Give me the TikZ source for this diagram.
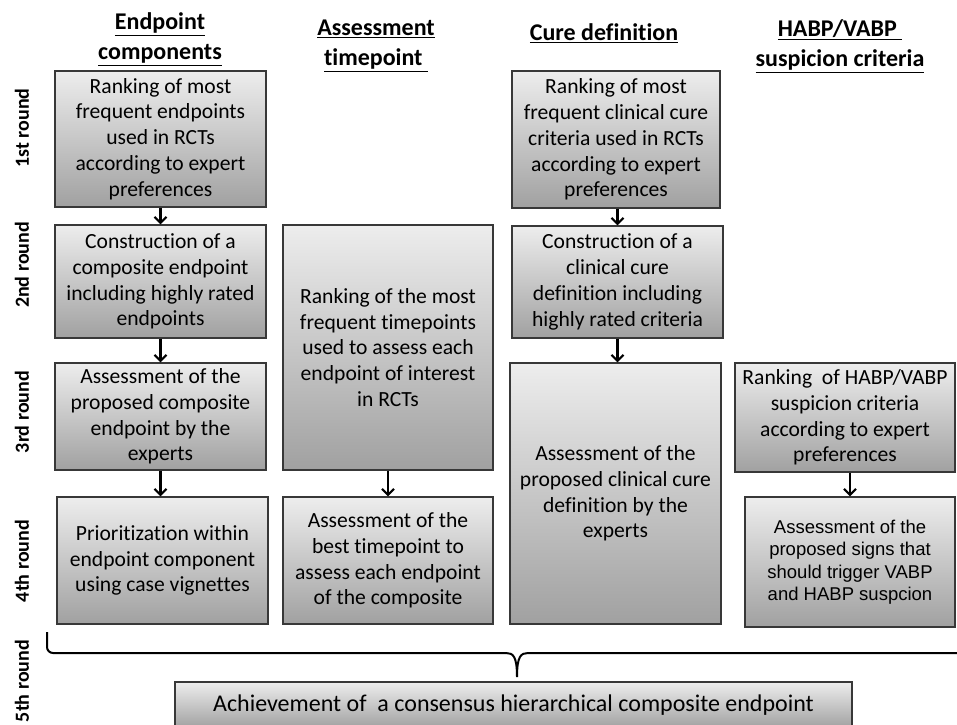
\documentclass[tikz,border=0pt]{standalone}
\usepackage{fontspec}
\setmainfont[Ligatures=NoCommon]{Carlito}
\newfontfamily\arialf{Liberation Sans}
\usetikzlibrary{arrows.meta,shadows}
\begin{document}
\begin{tikzpicture}[x=1pt,y=-1pt,
  box/.style={draw=black!78, line width=1.1pt, top color=black!7, bottom color=black!37,
    align=center, inner sep=2pt, font=\fontsize{21.6}{25.8}\selectfont,
    drop shadow={shadow xshift=1.3pt,shadow yshift=-1.3pt,opacity=0.35}},
  hdr/.style={font=\fontsize{24}{30}\selectfont\bfseries, align=center},
  rnd/.style={font=\fontsize{20}{24}\selectfont\bfseries, rotate=90},
  arr/.style={line width=2.2pt, -{Straight Barb[length=6pt,width=12pt]}},
  brace/.style={line width=2pt}
]
\useasboundingbox (0,0) rectangle (957,724);
\clip (0,0) rectangle (957,724);

% headers
\node[hdr] (eh) at (160,39) {\underline{Endpoint}\\\underline{components}};
\node[hdr] (ah) at (376,46) {\underline{Assessment}\\\underline{timepoint\ }};
\node[hdr] (ch) at (604,33) {\underline{Cure definition}};
\node[hdr] (hh) at (840,46) {\underline{HABP/VABP\ }\\\underline{suspicion criteria}};

% round labels
\node[rnd] (r1) at (22,128) {1st round};
\node[rnd] (r2) at (22,265) {2nd round};
\node[rnd] (r3) at (22,412) {3rd round};
\node[rnd] (r4) at (22,561) {4th round};
\node[rnd] (r5) at (22,681) {5th round};

% column 1
\node[box, minimum width=211pt, minimum height=136pt] (c1r1) at (160.5,139)
  {Ranking of most\\frequent endpoints\\used in RCTs\\according to expert\\preferences};
\node[box, minimum width=211pt, minimum height=113pt] (c1r2) at (160.5,281.5)
  {Construction of a\\composite endpoint\\including highly rated\\endpoints};
\node[box, minimum width=211pt, minimum height=107pt] (c1r3) at (160.5,416.5)
  {Assessment of the\\proposed composite\\endpoint by the\\experts};
\node[box, minimum width=211pt, minimum height=127pt] (c1r4) at (162.5,560.5)
  {Prioritization within\\endpoint component\\using case vignettes};

% column 2
\node[box, minimum width=210pt, minimum height=245pt] (c2r2) at (388,347.5)
  {Ranking of the most\\frequent timepoints\\used to assess each\\endpoint of interest\\in RCTs};
\node[box, minimum width=210pt, minimum height=127pt] (c2r4) at (388,560.5)
  {Assessment of the\\best timepoint to\\assess each endpoint\\of the composite};

% column 3
\node[box, minimum width=208pt, minimum height=137pt] (c3r1) at (616,139.5)
  {Ranking of most\\frequent clinical cure\\criteria used in RCTs\\according to expert\\preferences};
\node[box, minimum width=211pt, minimum height=112pt] (c3r2) at (617.5,282)
  {Construction of a\\clinical cure\\definition including\\highly rated criteria};
\node[box, minimum width=211pt, minimum height=261pt] (c3r3) at (615.5,493.5)
  {Assessment of the\\proposed clinical cure\\definition by the\\experts};

% column 4
\node[box, minimum width=220pt, minimum height=109pt] (c4r3) at (845,417.5)
  {Ranking~ of HABP/VABP\\suspicion criteria\\according to expert\\preferences};
\node[box, minimum width=210pt, minimum height=130pt, font=\arialf\fontsize{18.5}{22.5}\selectfont] (c4r4) at (850,562)
  {Assessment of the\\proposed signs that\\should trigger VABP\\and HABP suspcion};

% bottom
\node[box, minimum width=677pt, minimum height=46pt, font=\fontsize{24}{28}\selectfont] (bot) at (513.5,705)
  {Achievement of~~a consensus hierarchical composite endpoint};

% arrows
\draw[arr] (c1r1.south) -- (c1r2.north);
\draw[arr] (c1r2.south) -- (c1r3.north);
\draw[arr] (c1r3.south) -- (c1r3.south |- c1r4.north);
\draw[arr] (c2r2.south) -- (c2r4.north);
\draw[arr] (c3r2.north |- c3r1.south) -- (c3r2.north);
\draw[arr] (c3r2.south) -- (c3r2.south |- c3r3.north);
\draw[arr] (c4r4.north |- c4r3.south) -- (c4r4.north);

% brace
\coordinate (bl) at (47,632);
\coordinate (bt) at (517,677);
\coordinate (br) at (962,653);
\draw[brace, rounded corners=6pt] (bl) -- (47,653) -- (506,653);
\draw[brace] (506,653) .. controls (513,653) and (517,656) .. (bt)
  .. controls (517,656) and (521,653) .. (528,653) -- (br);
\end{tikzpicture}
\end{document}
